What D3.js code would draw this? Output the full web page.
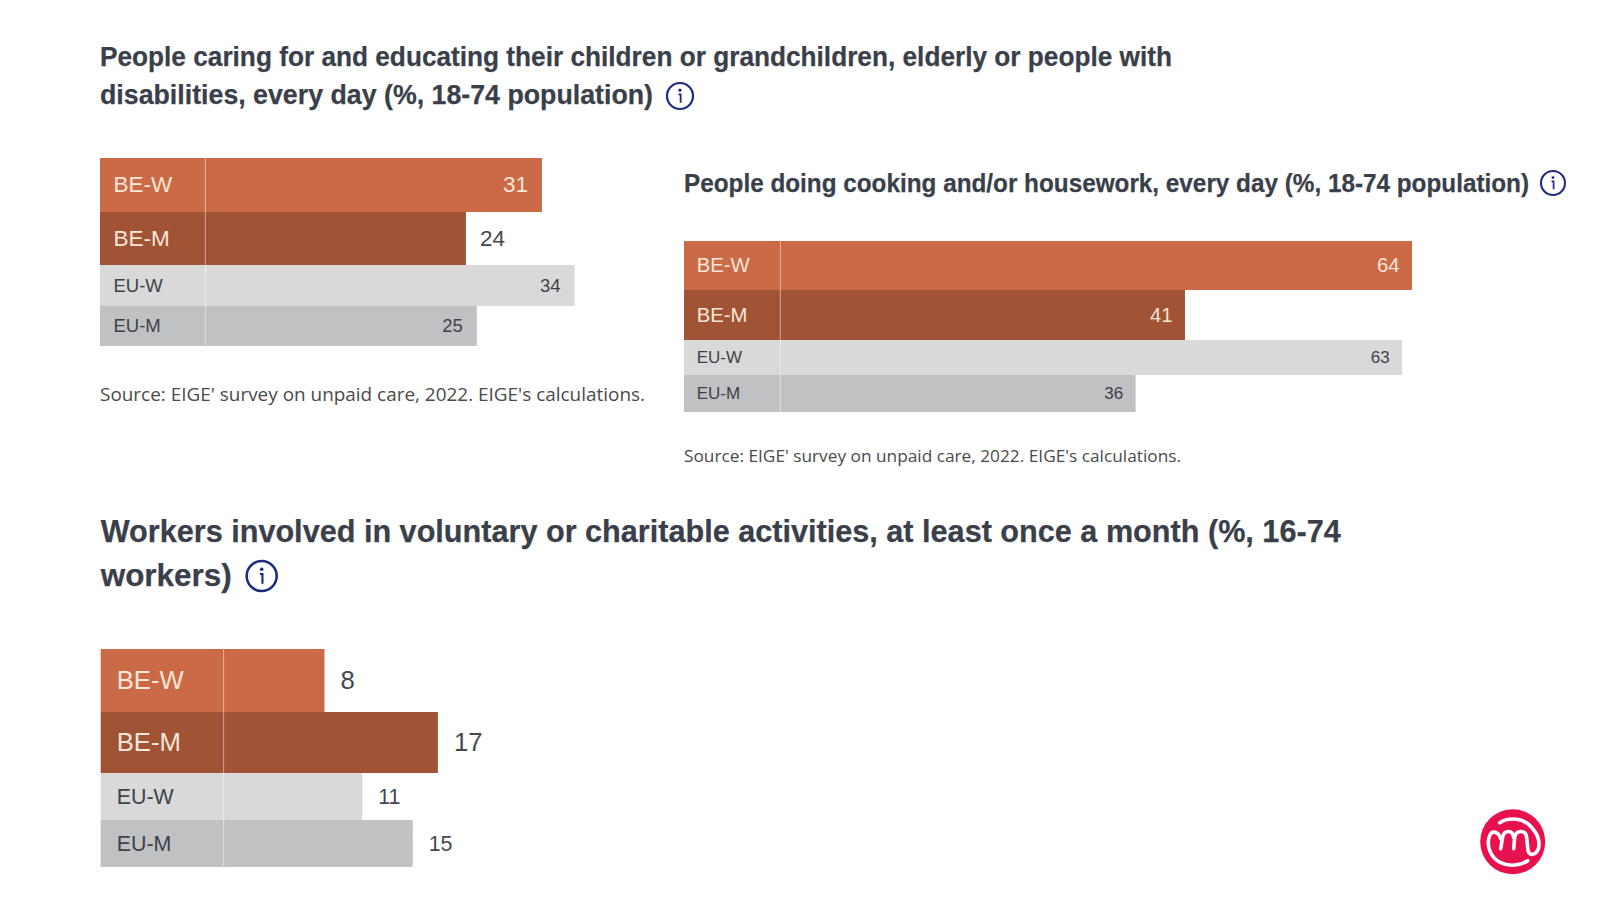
<!DOCTYPE html>
<html><head><meta charset="utf-8">
<script src="https://cdn.jsdelivr.net/npm/d3@7"></script>
<style>html,body{margin:0;padding:0;background:#fff;overflow:hidden}svg{display:block}</style>
</head><body><svg id="c" width="1600" height="900"></svg>
<script>
const categories = ["BE-W","BE-M","EU-W","EU-M"];
const caringValues = [31,24,34,25];
const cookingValues = [64,41,63,36];
const voluntaryValues = [8,17,11,15];
const caringTitle = ["People caring for and educating their children or grandchildren, elderly or people with","disabilities, every day (%, 18-74 population)"];
const cookingTitle = ["People doing cooking and/or housework, every day (%, 18-74 population)"];
const voluntaryTitle = ["Workers involved in voluntary or charitable activities, at least once a month (%, 16-74","workers)"];
const sourceText = "Source: EIGE' survey on unpaid care, 2022. EIGE's calculations.";

const barColor = d3.scaleOrdinal(categories,["#cb6a46","#a05335","#d9d9d9","#c0c1c3"]);
const labelColor = d3.scaleOrdinal(categories,["#fbe6d8","#fbe6d8","#3f4248","#3f4248"]);
const valueColor = (c,inside)=> inside ? labelColor(c) : "#45484e";

const panels = [
 {values:caringValues,title:caringTitle,x0:100,x1:205.3,unit:10.86,
  edges:[158,212,265,306,346],inside:24.5,pad:14,labelX:113.5,beSize:22.5,euSize:18.5,
  titleSize:27.5,titleY:[66,104],titleW:[1072,553],icon:[680,96,13],
  source:{y:401,w:545,size:18}},
 {values:cookingValues,title:cookingTitle,x0:684,x1:780.3,unit:9.87,
  edges:[241,290,340,375,412],inside:0,pad:12.5,labelX:696.7,beSize:20.3,euSize:17,
  titleSize:25.5,titleY:[192],titleW:[845],icon:[1553,183,12],
  source:{y:462,w:497,size:17}},
 {values:voluntaryValues,title:voluntaryTitle,x0:100.7,x1:223.7,unit:12.6,
  edges:[649,712,773,820,867],inside:Infinity,pad:16,labelX:116.7,beSize:25.7,euSize:21.4,
  titleSize:32,titleY:[542,586],titleW:[1240,131],icon:[261.7,576,15],
  source:null}
];

const svg = d3.select("#c");
const ink = "#3a3f4a", info = "#1c2a80";

panels.forEach(p=>{
  const g = svg.append("g");
  const x = d3.scaleLinear().domain([0,10]).range([p.x1,p.x1+p.unit*10]);
  const top = d3.scaleOrdinal(categories,p.edges.slice(0,4));
  const bot = d3.scaleOrdinal(categories,p.edges.slice(1));
  const rows = categories.map((c,i)=>({c,v:p.values[i]}));

  g.selectAll("text.t").data(p.title).join("text").attr("class","t")
    .attr("x",p.x0).attr("y",(d,i)=>p.titleY[i])
    .attr("textLength",(d,i)=>p.titleW[i]).attr("lengthAdjust","spacingAndGlyphs")
    .attr("font-family","Liberation Sans").attr("font-weight",700).attr("font-size",p.titleSize)
    .attr("fill",ink).attr("stroke",ink).attr("stroke-width",0.25).text(d=>d);

  const ic = g.append("g").attr("transform",`translate(${p.icon[0]},${p.icon[1]})`);
  const r = p.icon[2];
  ic.append("circle").attr("r",r).attr("fill","none").attr("stroke",info).attr("stroke-width",r*0.17);
  ic.append("circle").attr("cy",-r*0.45).attr("r",r*0.12).attr("fill",info);
  ic.append("path").attr("d",`M${-r*0.12},${-r*0.13}H${r*0.05}V${r*0.52}`)
    .attr("fill","none").attr("stroke",info).attr("stroke-width",r*0.14);

  g.selectAll("rect.lab").data(rows).join("rect").attr("class","lab")
    .attr("x",p.x0).attr("y",d=>top(d.c)).attr("width",p.x1-p.x0).attr("height",d=>bot(d.c)-top(d.c))
    .attr("fill",d=>barColor(d.c));
  g.selectAll("rect.bar").data(rows).join("rect").attr("class","bar")
    .attr("x",x(0)).attr("y",d=>top(d.c)).attr("width",d=>x(d.v)-x(0)).attr("height",d=>bot(d.c)-top(d.c))
    .attr("fill",d=>barColor(d.c));
  g.append("line").attr("x1",p.x1).attr("x2",p.x1)
    .attr("y1",p.edges[0]).attr("y2",p.edges[4])
    .attr("stroke","#fff").attr("stroke-opacity",0.35).attr("stroke-width",1);

  const size = d=>d.c.startsWith("BE")?p.beSize:p.euSize;
  g.selectAll("text.cat").data(rows).join("text").attr("class","cat")
    .attr("x",p.labelX).attr("y",d=>(top(d.c)+bot(d.c))/2).attr("dy","0.33em")
    .attr("font-family","Liberation Sans").attr("font-size",size)
    .attr("fill",d=>labelColor(d.c)).text(d=>d.c);
  g.selectAll("text.val").data(rows).join("text").attr("class","val")
    .attr("x",d=>d.v>p.inside?x(d.v)-p.pad:x(d.v)+p.pad)
    .attr("y",d=>(top(d.c)+bot(d.c))/2).attr("dy","0.33em")
    .attr("text-anchor",d=>d.v>p.inside?"end":"start")
    .attr("font-family","Liberation Sans").attr("font-size",size)
    .attr("fill",d=>valueColor(d.c,d.v>p.inside)).text(d=>d.v);

  if(p.source){
    g.append("text").attr("x",p.x0).attr("y",p.source.y)
      .attr("textLength",p.source.w).attr("lengthAdjust","spacingAndGlyphs")
      .attr("font-family","Open Sans").attr("font-size",p.source.size).attr("fill","#4a4a4a").text(sourceText);
  }
});

const logo = svg.append("g").attr("transform","translate(1512.7,841.7)");
logo.append("circle").attr("r",32.5).attr("fill","#e8114f");
logo.append("path")
  .attr("d","M-13,-19 C-4,-25 12,-24 20,-13 C28,-4 28,8 22,12 C17,14 15,11 15,6 L14,-4 C13,-12 4,-12 2,-5 L1,7 M1,-4 C0,-12 -8,-12 -10,-5 L-12,7 M-12,-3 C-14,-10 -21,-12 -23,-6 C-27,4 -22,16 -12,21 C-4,25 8,24 15,19")
  .attr("fill","none").attr("stroke","#fff").attr("stroke-width",3.6).attr("stroke-linecap","round").attr("stroke-linejoin","round");
</script></body></html>
